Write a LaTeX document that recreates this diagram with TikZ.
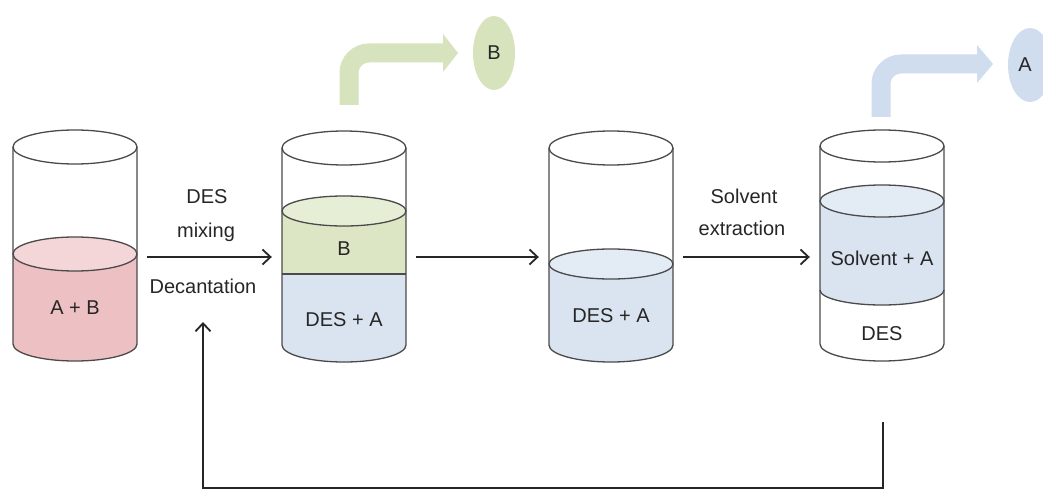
\documentclass[tikz,border=0pt]{standalone}
\usepackage{fontspec}
\setmainfont{Liberation Sans}
\usetikzlibrary{arrows.meta,shapes.geometric}
\definecolor{outl}{HTML}{4A4A4A}
\definecolor{txt}{HTML}{262626}
\definecolor{pinkbody}{HTML}{EDC0C3}
\definecolor{pinktop}{HTML}{F5D6D8}
\definecolor{greenbody}{HTML}{DCE6C4}
\definecolor{greentop}{HTML}{E6EED5}
\definecolor{greenarrow}{HTML}{D6E3BC}
\definecolor{bluebody}{HTML}{DAE4F0}
\definecolor{bluetop}{HTML}{E3EBF5}
\definecolor{bluearrow}{HTML}{D0DDEE}
\tikzset{
  cyl/.style={draw=outl, line width=1.3pt},
  arr/.style={draw=txt, line width=1.8pt, -{Straight Barb[length=8pt,width=15pt,line width=1.8pt]}},
  lbl/.style={text=txt, font=\fontsize{20}{24}\selectfont, inner sep=0pt, anchor=base},
  anchorbox/.style={inner sep=0pt, minimum width=144pt, minimum height=4pt},
  blob/.style={ellipse, inner sep=0pt, text=txt, font=\fontsize{20}{24}\selectfont}
}
\begin{document}
\begin{tikzpicture}[x=1pt,y=1pt]
\useasboundingbox (0,0) rectangle (1043,491);
\fill[white] (0,0) rectangle (1043,491);

% ---------- cylinder 1 ----------
\fill[pinkbody] (13,237) -- (13,147) arc[start angle=180,end angle=360,x radius=62,y radius=17] -- (137,237) -- cycle;
\draw[cyl, fill=pinktop] (75,237) ellipse[x radius=62, y radius=17];
\draw[cyl] (13,344) -- (13,147) arc[start angle=180,end angle=360,x radius=62,y radius=17] -- (137,344);
\draw[cyl] (75,344) ellipse[x radius=62, y radius=17];
\node[lbl] (t1) at (75,177) {A + B};

% ---------- cylinder 2 ----------
\fill[bluebody] (282,217) -- (282,146) arc[start angle=180,end angle=360,x radius=62,y radius=17] -- (406,217) -- cycle;
\fill[greenbody] (282,217) rectangle (406,280);
\draw[cyl, fill=greentop] (344,280) ellipse[x radius=62, y radius=15];
\draw[cyl] (282,217) -- (406,217);
\draw[cyl] (282,343) -- (282,146) arc[start angle=180,end angle=360,x radius=62,y radius=17] -- (406,343);
\draw[cyl] (344,343) ellipse[x radius=62, y radius=17];
\node[lbl] (t2a) at (344,236) {B};
\node[lbl] (t2b) at (344,165) {DES + A};

% ---------- cylinder 3 ----------
\fill[bluebody] (549,227) -- (549,146) arc[start angle=180,end angle=360,x radius=62,y radius=17] -- (673,227) -- cycle;
\draw[cyl, fill=bluetop] (611,227) ellipse[x radius=62, y radius=15];
\draw[cyl] (549,343) -- (549,146) arc[start angle=180,end angle=360,x radius=62,y radius=17] -- (673,343);
\draw[cyl] (611,343) ellipse[x radius=62, y radius=17];
\node[lbl] (t3) at (611,169) {DES + A};

% ---------- cylinder 4 ----------
\fill[bluebody] (820,290) -- (820,201) arc[start angle=180,end angle=360,x radius=62,y radius=15] -- (944,290) -- cycle;
\draw[cyl] (820,201) arc[start angle=180,end angle=360,x radius=62,y radius=15];
\draw[cyl, fill=bluetop] (882,290) ellipse[x radius=62, y radius=16];
\draw[cyl] (820,345) -- (820,147) arc[start angle=180,end angle=360,x radius=62,y radius=17] -- (944,345);
\draw[cyl] (882,345) ellipse[x radius=62, y radius=16];
\node[lbl] (t4a) at (882,226) {Solvent + A};
\node[lbl] (t4b) at (882,151) {DES};

% ---------- bent output arrows ----------
\draw[greenarrow, line width=19pt, rounded corners=20pt] (349,386) -- (349,438) -- (444,438);
\fill[greenarrow] (443,457) -- (458,438) -- (443,419) -- cycle;
\node[blob, fill=greenarrow, minimum width=42pt, minimum height=74pt] (pB) at (494,438) {B};

\draw[bluearrow, line width=19pt, rounded corners=20pt] (881,374) -- (881,427) -- (978,427);
\fill[bluearrow] (977,446) -- (993,427) -- (977,408) -- cycle;
\node[blob, fill=bluearrow, minimum width=44pt, minimum height=74pt] (pA) at (1030,426) {};
\node[lbl] (tA) at (1025,419) {A};

% ---------- anchors for process arrows ----------
\node[anchorbox] (c1) at (75,234) {};
\node[anchorbox] (c2) at (344,234) {};
\node[anchorbox] (c3) at (611,234) {};
\node[anchorbox] (c4) at (882,234) {};

\draw[arr] (c1.east) -- (c2.west);
\draw[arr] (c2.east) -- (c3.west);
\draw[arr] (c3.east) -- (c4.west);

\node[lbl] (l1) at (207,288) {DES};
\node[lbl] (l2) at (206,254) {mixing};
\node[lbl] (l3) at (203,198) {Decantation};
\node[lbl] (l4) at (744,288) {Solvent};
\node[lbl] (l5) at (742,256) {extraction};

% ---------- recycle loop ----------
\coordinate (fbs) at (883,69);
\coordinate (fbe) at (203,169);
\draw[arr] (fbs) -- ++(0,-66) -| (fbe);
\end{tikzpicture}
\end{document}
